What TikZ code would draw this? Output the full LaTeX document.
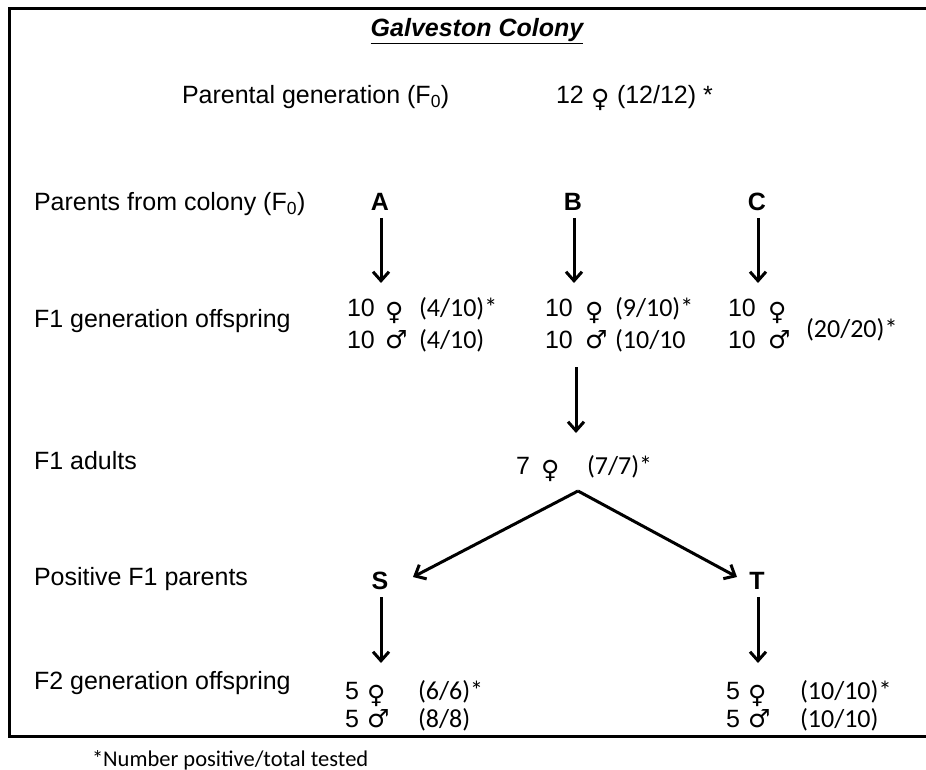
\documentclass[tikz,border=0pt]{standalone}
\usepackage{fontspec}
\setmainfont{Liberation Sans}
\newfontfamily\calfont{Carlito}
\newfontfamily\symfont{DejaVu Sans}
\usetikzlibrary{arrows.meta}
\begin{document}
\begin{tikzpicture}[x=1pt,y=-1pt,
  every node/.style={inner sep=0pt,outer sep=0pt},
  lbl/.style={anchor=base west,font=\fontsize{25}{29}\selectfont},
  num/.style={anchor=base west,font=\fontsize{25}{29}\selectfont},
  frac/.style={anchor=base west,font=\calfont\fontsize{26}{30}\selectfont},
  fem/.style={anchor=base west,font=\symfont\fontsize{25}{28}\selectfont,yshift=-4pt},
  mal/.style={anchor=base west,font=\symfont\fontsize{25}{28}\selectfont},
  let/.style={anchor=base,font=\bfseries\fontsize{25}{29}\selectfont},
  arr/.style={line width=3pt,-{Straight Barb[length=9pt,width=16pt,line width=3pt]}}]
\useasboundingbox (0,0) rectangle (926,770);
\draw[line width=3pt] (9.5,8.5) rectangle (935,736.5);
% title
\node[anchor=base,font=\bfseries\itshape\fontsize{25}{29}\selectfont] (title) at (477,37) {\underline{Galveston Colony}};
% parental
\node[lbl] (pg) at (182,104) {Parental generation (F\textsubscript{0})};
\node[num] (p12) at (556,104) {12};
\node[fem] (p12s) at (591,104) {♀};
\node[num] (p12f) at (617,104) {(12/12) *};
% parents from colony
\node[lbl] (pc) at (34,211) {Parents from colony (F\textsubscript{0})};
\node[let] (A) at (380,211) {A};
\node[let] (B) at (573,211) {B};
\node[let] (C) at (757,211) {C};
\coordinate (Aend) at (381,283);
\coordinate (Bend) at (574,283);
\coordinate (Cend) at (758,283);
\draw[arr] (381,218) -- (Aend);
\draw[arr] (574,218) -- (Bend);
\draw[arr] (758,218) -- (Cend);
% F1 offspring
\node[lbl] (f1o) at (34,327) {F1 generation offspring};
\node[num] (a1) at (347,316) {10};
\node[fem] (a1s) at (385,316) {♀};
\node[frac] (a1f) at (419,316) {(4/10)*};
\node[num] (a2) at (347,348) {10};
\node[mal] (a2s) at (385,348) {♂};
\node[frac] (a2f) at (419,348) {(4/10)};
\node[num] (b1) at (545,316) {10};
\node[fem] (b1s) at (585,316) {♀};
\node[frac] (b1f) at (615,316) {(9/10)*};
\node[num] (b2) at (545,348) {10};
\node[mal] (b2s) at (585,348) {♂};
\node[frac] (b2f) at (615,348) {(10/10};
\node[num] (c1) at (728,316) {10};
\node[fem] (c1s) at (768,316) {♀};
\node[num] (c2) at (728,348) {10};
\node[mal] (c2s) at (768,348) {♂};
\node[frac] (cf) at (806,337) {(20/20)*};
% B to adults
\coordinate (Bstart) at (576,367);
\coordinate (adtop) at (576,433);
\draw[arr] (Bstart) -- (adtop);
\node[lbl] (f1a) at (34,469) {F1 adults};
\node[num] (d1) at (516,474) {7};
\node[fem] (d1s) at (541,474) {♀};
\node[frac] (d1f) at (587,474) {(7/7)*};
\coordinate (apex) at (578,491);
% positive parents
\node[lbl] (pp) at (34,585) {Positive F1 parents};
\node[let] (S) at (380,589) {S};
\node[let] (T) at (757,589) {T};
\coordinate (Sin) at (413,577);
\coordinate (Tin) at (737,577);
\draw[arr] (apex) -- (Sin);
\draw[arr] (apex) -- (Tin);
\coordinate (Sout) at (381,663);
\coordinate (Tout) at (758,663);
\draw[arr] (381,597) -- (Sout);
\draw[arr] (758,597) -- (Tout);
% F2
\node[lbl] (f2o) at (34,689) {F2 generation offspring};
\node[num] (s1) at (345,699) {5};
\node[fem] (s1s) at (367,699) {♀};
\node[frac] (s1f) at (418,699) {(6/6)*};
\node[num] (s2) at (345,727) {5};
\node[mal] (s2s) at (367,727) {♂};
\node[frac] (s2f) at (418,727) {(8/8)};
\node[num] (t1) at (726,699) {5};
\node[fem] (t1s) at (748,699) {♀};
\node[frac] (t1f) at (800,699) {(10/10)*};
\node[num] (t2) at (726,727) {5};
\node[mal] (t2s) at (748,727) {♂};
\node[frac] (t2f) at (800,727) {(10/10)};
% footnote
\node[anchor=base west,font=\calfont\fontsize{22.5}{26}\selectfont] (fn) at (92,766) {*Number positive/total tested};
\end{tikzpicture}
\end{document}
